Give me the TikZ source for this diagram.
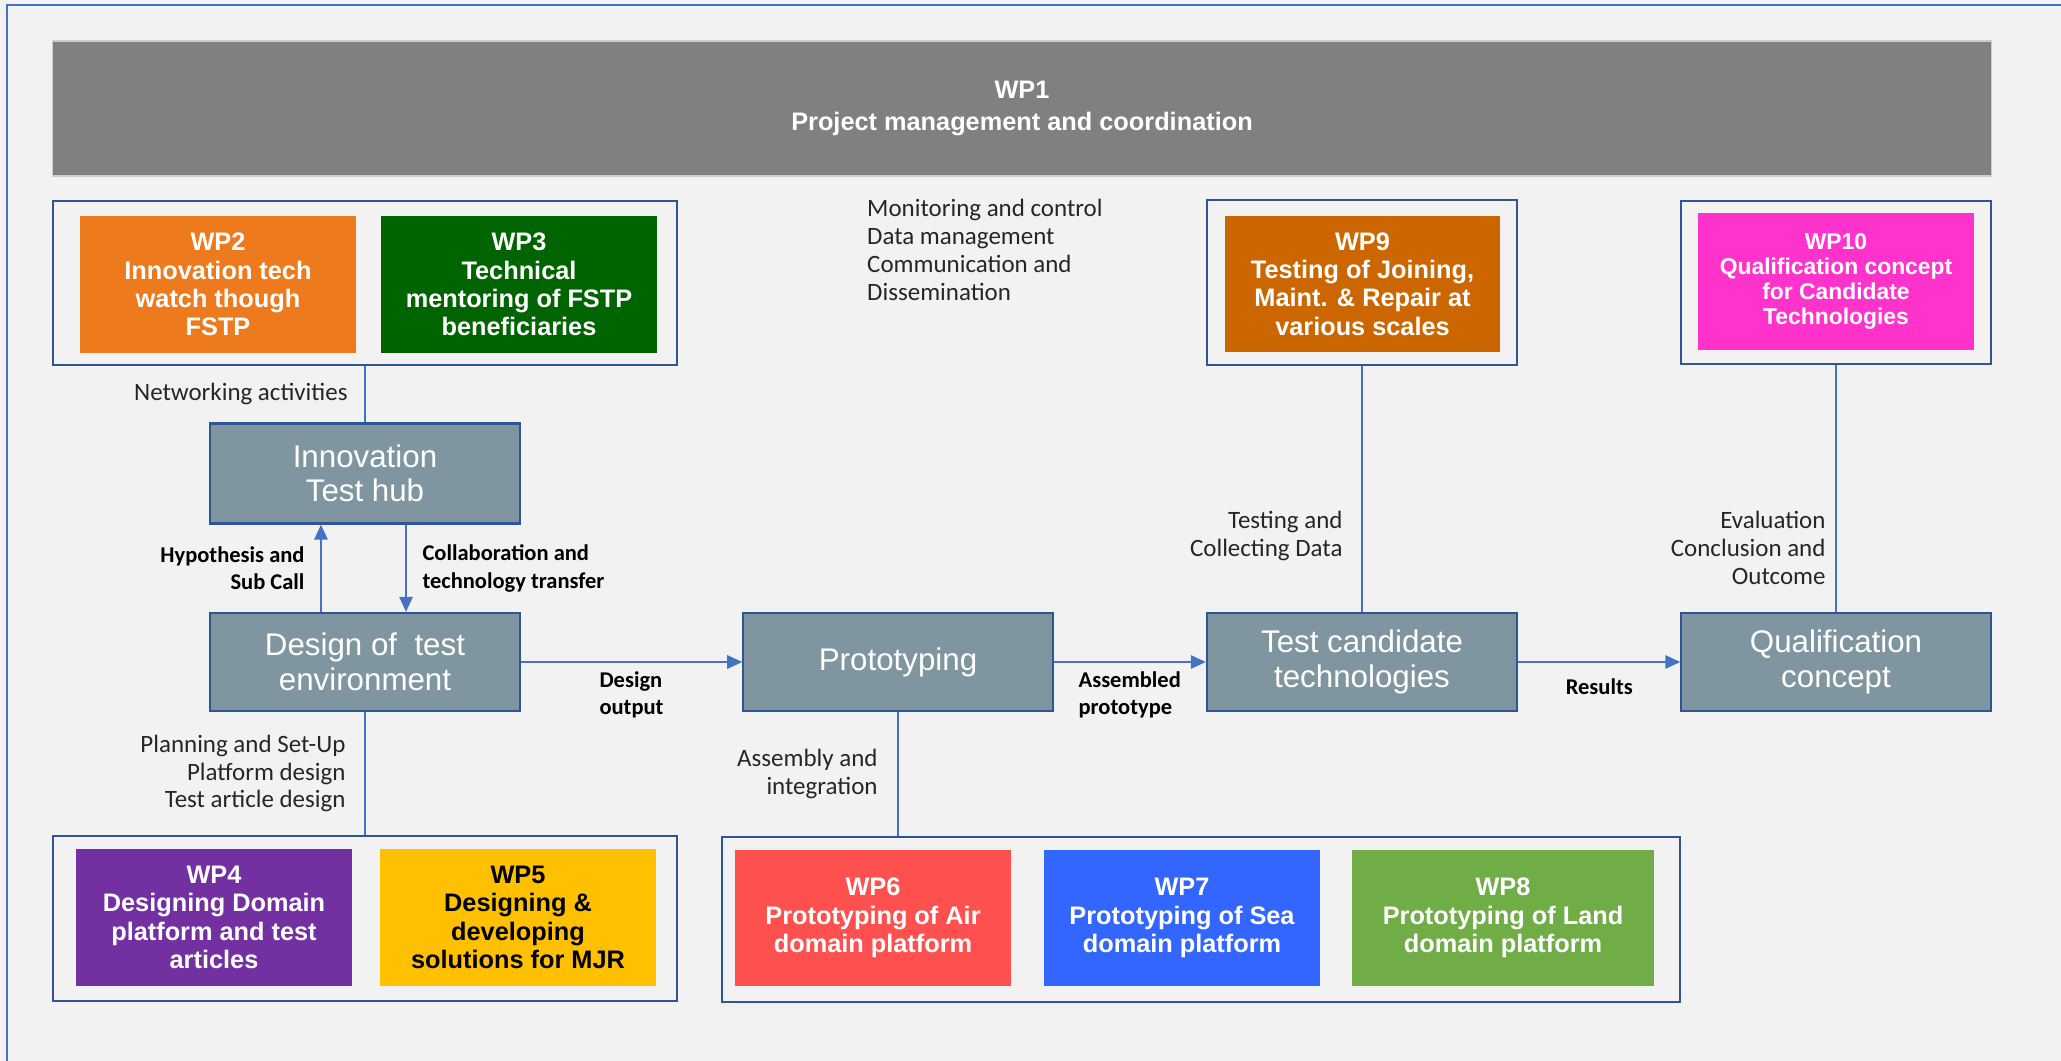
\documentclass[tikz,border=0pt]{standalone}
\usepackage{fontspec}
\setmainfont{Liberation Sans}
\newfontfamily\calibri{Carlito}
\usepackage{tikz}
\usetikzlibrary{positioning,arrows.meta}
\usepackage{xcolor}
\definecolor{pageBg}{HTML}{F2F2F2}
\definecolor{frameBlue}{HTML}{4472C4}
\definecolor{edgeBlue}{HTML}{2F5597}
\definecolor{procFill}{HTML}{7F96A0}
\definecolor{wpGray}{HTML}{808080}
\definecolor{wpOrange}{HTML}{EE7A1E}
\definecolor{wpGreen}{HTML}{006400}
\definecolor{wpPurple}{HTML}{7330A0}
\definecolor{wpAmber}{HTML}{FFC000}
\definecolor{wpRed}{HTML}{FF5050}
\definecolor{wpBlue}{HTML}{3366FF}
\definecolor{wpLime}{HTML}{70AD47}
\definecolor{wpRust}{HTML}{CC6600}
\definecolor{wpPink}{HTML}{FF33CC}

\begin{document}
\begin{tikzpicture}[
    x=0.01cm, y=-0.01cm,
    procBox/.style={rectangle, draw=edgeBlue, line width=0.6pt, fill=procFill, text=white, align=center, minimum width=3.09cm, minimum height=0.98cm, font=\fontsize{8.9}{9.8}\selectfont},
    wpBox/.style={rectangle, minimum width=2.76cm, minimum height=1.36cm, inner sep=1pt, align=center, text=white, font=\fontsize{7.2}{8.05}\selectfont\bfseries},
    groupBox/.style={rectangle, draw=edgeBlue, line width=0.6pt, fill=pageBg},
    linkLine/.style={draw=frameBlue, line width=0.55pt},
    flowArrow/.style={linkLine, -{Triangle[length=4.3pt,width=3.8pt]}},
    lblText/.style={font=\calibri\fontsize{7.1}{7.9}\selectfont, text=black!85, inner sep=1pt},
    boldLbl/.style={lblText, font=\calibri\bfseries\fontsize{6.4}{7.85}\selectfont, text=black}
]
    \fill[pageBg] (0,0) rectangle (2061,1061);
    \useasboundingbox (0,0) rectangle (2061,1061);
    \draw[frameBlue, line width=0.6pt] (7,1061) -- (7,5) -- (2061,5);

    % WP1
    \node[rectangle, fill=wpGray, draw=black!20, minimum width=19.38cm, minimum height=1.35cm, align=center, text=white, font=\fontsize{7.2}{9}\selectfont\bfseries] (wp1) at (1022,108.5) {WP1\\Project management and coordination};

    \node[lblText, anchor=west, align=left] (mgmt) at (863,250) {Monitoring and control\\Data management\\Communication and\\Dissemination};

    % Gruppi superiori
    \node[groupBox, minimum width=6.24cm, minimum height=1.64cm] (grpTop) at (365,283) {};
    \node[wpBox, fill=wpOrange] (wp2) at (218,284.5) {WP2\\Innovation tech\\watch though\\FSTP};
    \node[wpBox, fill=wpGreen] (wp3) at (519,284.5) {WP3\\Technical\\mentoring of FSTP\\beneficiaries};

    \node[groupBox, minimum width=3.10cm, minimum height=1.65cm] (grpTest) at (1362,282.5) {};
    \node[wpBox, fill=wpRust, minimum width=2.75cm] (wp9) at (1362.5,284) {WP9\\Testing of Joining,\\Maint. \& Repair at\\various scales};

    \node[groupBox, minimum width=3.10cm, minimum height=1.63cm] (grpQual) at (1836,282.5) {};
    \node[wpBox, fill=wpPink, minimum height=1.37cm, font=\fontsize{6.5}{7.1}\selectfont\bfseries] (wp10) at (1836,281.5) {WP10\\Qualification concept\\for Candidate\\Technologies};

    % Catena principale
    \node[procBox, minimum height=1.0cm] (hub) at (365,473.5) {Innovation\\Test hub};
    \node[procBox] (design) at (365,662) {Design of\ \ test\\environment};
    \node[procBox] (proto) at (898,662) {Prototyping};
    \node[procBox, minimum width=3.10cm] (testc) at (1362,662) {Test candidate\\technologies};
    \node[procBox] (qual) at (1836,662) {Qualification\\concept};

    % Gruppi inferiori
    \node[groupBox, minimum width=6.24cm, minimum height=1.65cm] (grpDesign) at (365,918.5) {};
    \node[wpBox, fill=wpPurple, minimum height=1.37cm] (wp4) at (214,917.5) {WP4\\Designing Domain\\platform and test\\articles};
    \node[wpBox, fill=wpAmber, minimum height=1.37cm, text=black] (wp5) at (518,917.5) {WP5\\Designing \&\\developing\\solutions for MJR};

    \node[groupBox, minimum width=9.58cm, minimum height=1.65cm] (grpProto) at (1201,919.5) {};
    \node[wpBox, fill=wpRed] (wp6) at (873,918) {WP6\\Prototyping of Air\\domain platform};
    \node[wpBox, fill=wpBlue] (wp7) at (1182,918) {WP7\\Prototyping of Sea\\domain platform};
    \node[wpBox, fill=wpLime, minimum width=3.02cm] (wp8) at (1503,918) {WP8\\Prototyping of Land\\domain platform};

    % Collegamenti
    \draw[linkLine] (grpTop) -- (hub) node[midway, left=0.13cm, lblText] {Networking activities};
    \draw[flowArrow] ([xshift=-0.44cm]design.north) -- ([xshift=-0.44cm]hub.south) node[midway, left=0.12cm, boldLbl, align=right] {Hypothesis and\\Sub Call};
    \draw[flowArrow] ([xshift=0.41cm]hub.south) -- ([xshift=0.41cm]design.north) node[midway, right=0.12cm, boldLbl, align=left] {Collaboration and\\technology transfer};
    \draw[linkLine] (design) -- (grpDesign) node[midway, left=0.15cm, lblText, align=right] {Planning and Set-Up\\Platform design\\Test article design};

    \draw[flowArrow] (design) -- (proto) node[midway, below=0.05cm, boldLbl, align=left] {Design\\output};
    \draw[flowArrow] (proto) -- (testc) node[midway, below=0.05cm, boldLbl, align=left] {Assembled\\prototype};
    \draw[flowArrow] (testc) -- (qual) node[midway, below=0.12cm, boldLbl] {Results};

    \draw[linkLine] (proto.south) -- (proto.south |- grpProto.north) node[midway, left=0.16cm, lblText, align=right] {Assembly and\\integration};
    \draw[linkLine] (grpTest) -- (testc) node[pos=0.69, left=0.15cm, lblText, align=right] {Testing and\\Collecting Data};
    \draw[linkLine] (grpQual) -- (qual) node[pos=0.74, left=0.06cm, lblText, align=right] {Evaluation\\Conclusion and\\Outcome};
\end{tikzpicture}
\end{document}
